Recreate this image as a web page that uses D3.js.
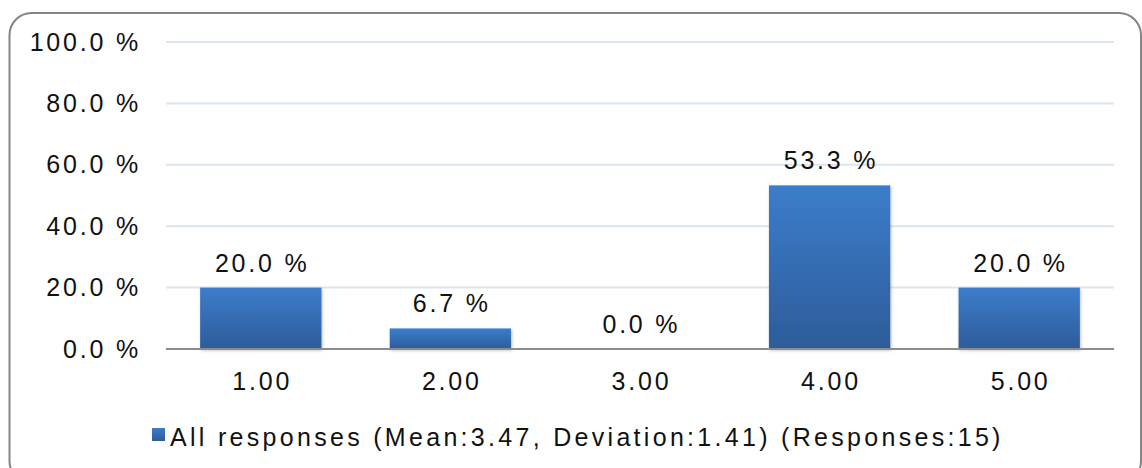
<!DOCTYPE html>
<html>
<head>
<meta charset="utf-8">
<script src="https://cdn.jsdelivr.net/npm/d3@7"></script>
<style>
  html, body { margin: 0; padding: 0; background: #fff; }
  svg text { font-family: "Liberation Sans", Arial, sans-serif; fill: #111; }
</style>
</head>
<body>
<svg id="chart" width="1142" height="468"></svg>
<script>
// Response distribution for a 1–5 rating question
const categories = ["1.00", "2.00", "3.00", "4.00", "5.00"];
const percentages = [20.0, 6.7, 0.0, 53.3, 20.0];
const yTicks = [0, 20, 40, 60, 80, 100];
const legendLabel = "All responses (Mean:3.47, Deviation:1.41) (Responses:15)";

const FONT = 25, SPACING = 2.8;

const svg = d3.select("#chart");
const margin = { left: 166, right: 28, top: 42, bottom: 119 };
const W = 1142, H = 468;
const plotW = W - margin.left - margin.right;
const plotH = H - margin.top - margin.bottom;

// Outer rounded frame
svg.append("rect")
  .attr("x", 9.5).attr("y", 13)
  .attr("width", 1131.5).attr("height", 470)
  .attr("rx", 22).attr("ry", 22)
  .attr("fill", "#fff")
  .attr("stroke", "#858585").attr("stroke-width", 2);

const defs = svg.append("defs");
const grad = defs.append("linearGradient")
  .attr("id", "barFill").attr("x1", 0).attr("y1", 0).attr("x2", 0).attr("y2", 1);
grad.append("stop").attr("offset", "0%").attr("stop-color", "#3c7dcb");
grad.append("stop").attr("offset", "100%").attr("stop-color", "#2d5c99");

const shadow = defs.append("filter").attr("id", "barShadow")
  .attr("x", "-10%").attr("y", "-10%").attr("width", "130%").attr("height", "130%");
shadow.append("feDropShadow").attr("dx", 1).attr("dy", 1.5)
  .attr("stdDeviation", 1.5).attr("flood-color", "#000").attr("flood-opacity", 0.25);

const g = svg.append("g").attr("transform", `translate(${margin.left},${margin.top})`);

const x = d3.scaleBand().domain(categories).range([0, plotW]).paddingInner(0.36).paddingOuter(0.18);
const y = d3.scaleLinear().domain([0, 100]).range([plotH, 0]);

// Horizontal gridlines
g.append("g")
  .selectAll("line")
  .data(yTicks.filter(t => t > 0))
  .join("line")
  .attr("x1", 0).attr("x2", plotW)
  .attr("y1", d => y(d)).attr("y2", d => y(d))
  .attr("stroke", "#dbe5f1").attr("stroke-width", 2);

// Y axis labels
const yAxis = g.append("g")
  .call(d3.axisLeft(y).tickValues(yTicks).tickSize(0).tickPadding(25)
    .tickFormat(d => d3.format(".1f")(d) + " %"));
yAxis.select(".domain").remove();
yAxis.selectAll("text")
  .attr("font-size", FONT).attr("letter-spacing", SPACING + "px").attr("fill", "#111")
  .attr("font-family", "Liberation Sans, Arial, sans-serif");

// Bars
g.append("g")
  .selectAll("rect")
  .data(percentages)
  .join("rect")
  .attr("x", (d, i) => x(categories[i]))
  .attr("y", d => y(d))
  .attr("width", x.bandwidth())
  .attr("height", d => y(0) - y(d))
  .attr("fill", "url(#barFill)")
  .attr("filter", "url(#barShadow)");

// Baseline
g.append("line")
  .attr("x1", 0).attr("x2", plotW)
  .attr("y1", y(0)).attr("y2", y(0))
  .attr("stroke", "#8c8c8c").attr("stroke-width", 2);

// X axis labels
const xAxis = g.append("g").attr("transform", `translate(0,${plotH})`)
  .call(d3.axisBottom(x).tickSize(0).tickPadding(23));
xAxis.select(".domain").remove();
xAxis.selectAll("text")
  .attr("font-size", FONT).attr("letter-spacing", SPACING + "px").attr("fill", "#111")
  .attr("dx", SPACING / 2)
  .attr("font-family", "Liberation Sans, Arial, sans-serif");

// Value labels above bars
g.append("g")
  .selectAll("text")
  .data(percentages)
  .join("text")
  .attr("x", (d, i) => x(categories[i]) + x.bandwidth() / 2 + SPACING / 2)
  .attr("y", d => y(d) - 16)
  .attr("text-anchor", "middle")
  .attr("font-size", FONT).attr("letter-spacing", SPACING + "px")
  .text(d => d3.format(".1f")(d) + " %");

// Legend
const legend = svg.append("g").attr("transform", "translate(152,428)");
legend.append("rect")
  .attr("width", 13).attr("height", 13)
  .attr("fill", "url(#barFill)");
legend.append("text")
  .attr("x", 18).attr("y", 18)
  .attr("font-size", FONT).attr("letter-spacing", "3.3px")
  .text(legendLabel);
</script>
</body>
</html>
